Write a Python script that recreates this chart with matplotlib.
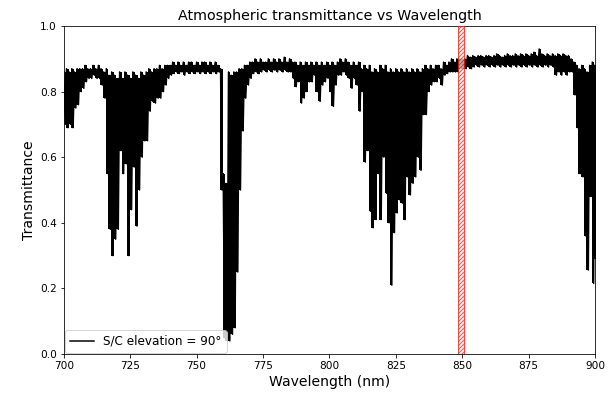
import numpy as np
import matplotlib
matplotlib.use("Agg")
import matplotlib.pyplot as plt

# Transmittance, one value per nm (700..900 nm):
# upper edge of the noisy band and lower edge (depth of the absorption lines)
wl_start = 700
wl_stop = 900

upper = [
    0.86, 0.87, 0.86, 0.87, 0.86, 0.87, 0.87, 0.87, 0.88, 0.87,  # 700
    0.87, 0.88, 0.87, 0.88, 0.87, 0.86, 0.87, 0.85, 0.86, 0.85,  # 710
    0.84, 0.86, 0.84, 0.86, 0.85, 0.84, 0.86, 0.85, 0.84, 0.86,  # 720
    0.85, 0.86, 0.87, 0.86, 0.87, 0.87, 0.88, 0.87, 0.88, 0.88,  # 730
    0.88, 0.89, 0.88, 0.89, 0.88, 0.89, 0.88, 0.89, 0.89, 0.88,  # 740
    0.89, 0.88, 0.89, 0.89, 0.88, 0.89, 0.88, 0.89, 0.88, 0.87,  # 750
    0.55, 0.52, 0.86, 0.85, 0.86, 0.86, 0.87, 0.87, 0.88, 0.88,  # 760
    0.89, 0.89, 0.90, 0.89, 0.90, 0.89, 0.89, 0.90, 0.89, 0.90,  # 770
    0.89, 0.90, 0.89, 0.905, 0.89, 0.90, 0.89, 0.89, 0.88, 0.89,  # 780
    0.88, 0.89, 0.88, 0.89, 0.88, 0.89, 0.88, 0.89, 0.88, 0.89,  # 790
    0.88, 0.89, 0.88, 0.89, 0.90, 0.89, 0.90, 0.89, 0.88, 0.89,  # 800
    0.88, 0.89, 0.87, 0.88, 0.87, 0.88, 0.86, 0.87, 0.86, 0.88,  # 810
    0.87, 0.88, 0.86, 0.87, 0.86, 0.87, 0.86, 0.87, 0.86, 0.87,  # 820
    0.86, 0.87, 0.86, 0.87, 0.86, 0.87, 0.88, 0.87, 0.88, 0.87,  # 830
    0.88, 0.88, 0.87, 0.89, 0.88, 0.89, 0.90, 0.89, 0.90, 0.90,  # 840
    0.90, 0.90, 0.91, 0.905, 0.91, 0.905, 0.91, 0.91, 0.905, 0.91,  # 850
    0.91, 0.905, 0.91, 0.915, 0.91, 0.905, 0.91, 0.915, 0.91, 0.91,  # 860
    0.915, 0.91, 0.915, 0.91, 0.915, 0.91, 0.915, 0.92, 0.91, 0.93,  # 870
    0.915, 0.91, 0.915, 0.91, 0.915, 0.91, 0.915, 0.91, 0.915, 0.91,  # 880
    0.91, 0.90, 0.89, 0.88, 0.87, 0.88, 0.87, 0.86, 0.88, 0.89,  # 890
    0.88,                                                        # 900
]

lower = [
    0.70, 0.69, 0.70, 0.69, 0.75, 0.76, 0.80, 0.81, 0.83, 0.84,  # 700
    0.84, 0.85, 0.84, 0.84, 0.82, 0.78, 0.55, 0.38, 0.30, 0.35,  # 710
    0.38, 0.62, 0.55, 0.58, 0.30, 0.44, 0.57, 0.39, 0.50, 0.60,  # 720
    0.65, 0.65, 0.74, 0.77, 0.765, 0.78, 0.78, 0.80, 0.82, 0.84,  # 730
    0.85, 0.855, 0.86, 0.855, 0.86, 0.85, 0.86, 0.855, 0.86, 0.855,  # 740
    0.86, 0.855, 0.86, 0.855, 0.86, 0.855, 0.86, 0.855, 0.86, 0.50,  # 750
    0.05, 0.04, 0.04, 0.06, 0.08, 0.25, 0.50, 0.68, 0.78, 0.82,  # 760
    0.84, 0.855, 0.86, 0.855, 0.86, 0.865, 0.86, 0.865, 0.86, 0.865,  # 770
    0.86, 0.865, 0.86, 0.865, 0.86, 0.86, 0.84, 0.815, 0.83, 0.765,  # 780
    0.78, 0.80, 0.83, 0.83, 0.85, 0.80, 0.77, 0.82, 0.83, 0.84,  # 790
    0.80, 0.755, 0.82, 0.85, 0.85, 0.86, 0.85, 0.84, 0.81, 0.84,  # 800
    0.82, 0.74, 0.80, 0.585, 0.62, 0.435, 0.385, 0.41, 0.55, 0.41,  # 810
    0.60, 0.49, 0.40, 0.21, 0.37, 0.43, 0.47, 0.46, 0.41, 0.54,  # 820
    0.485, 0.52, 0.54, 0.60, 0.56, 0.73, 0.73, 0.80, 0.82, 0.83,  # 830
    0.83, 0.84, 0.82, 0.85, 0.855, 0.86, 0.86, 0.86, 0.86, 0.87,  # 840
    0.87, 0.87, 0.875, 0.87, 0.875, 0.88, 0.875, 0.88, 0.875, 0.88,  # 850
    0.875, 0.88, 0.875, 0.88, 0.875, 0.88, 0.875, 0.88, 0.875, 0.88,  # 860
    0.875, 0.88, 0.875, 0.88, 0.875, 0.88, 0.875, 0.88, 0.875, 0.88,  # 870
    0.875, 0.88, 0.875, 0.88, 0.875, 0.85, 0.86, 0.85, 0.86, 0.85,  # 880
    0.86, 0.86, 0.79, 0.69, 0.55, 0.54, 0.36, 0.256, 0.48, 0.215,  # 890
    0.29,                                                        # 900
]

span_lo, span_hi = 848.5, 850.7

wl = np.arange(wl_start, wl_stop + 1)
# zigzag through the band: upper edge at whole nm, lower edge half a nm later
x = np.column_stack([wl, wl + 0.5]).ravel()[:-1]
y = np.column_stack([upper, lower]).ravel()[:-1]

fig = plt.figure(figsize=(614 / 72, 400 / 72), dpi=72)
ax = fig.add_axes([0.104, 0.115, 0.865, 0.82])

# the dense lines blur into a solid band at this scale
ax.fill_between(wl + 0.25, lower, upper, step="mid", color="black", linewidth=0)
ax.plot(x, y, color="black", linewidth=1.5, label="S/C elevation = 90°")
ax.axvspan(span_lo, span_hi, facecolor="white", edgecolor="red",
           hatch="//////", alpha=0.7, zorder=3)

ax.set_xlim(700, 900)
ax.set_ylim(0.0, 1.0)
ax.tick_params(labelsize=10.5)
ax.set_title("Atmospheric transmittance vs Wavelength", fontsize=14.3)
ax.set_xlabel("Wavelength (nm)", fontsize=14)
ax.set_ylabel("Transmittance", fontsize=14)
ax.legend(loc="lower left", fontsize=12, borderaxespad=0.1)

fig.savefig("out.png", dpi=72)
